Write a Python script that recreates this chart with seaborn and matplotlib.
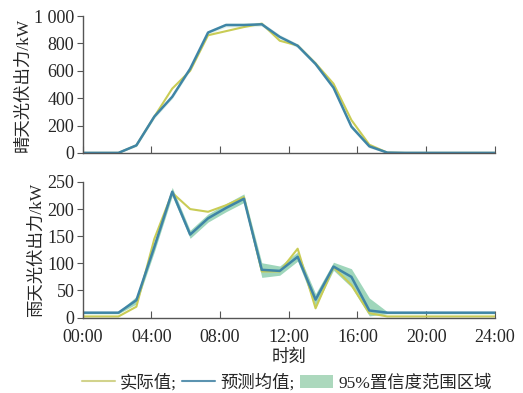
import numpy as np
import pandas as pd
import matplotlib
matplotlib.use("Agg")
import matplotlib.pyplot as plt
import seaborn as sns
from matplotlib.lines import Line2D
from matplotlib.patches import Patch

# 24 samples over the day
hours = np.linspace(0, 24, 24)
tick_pos = [0, 4, 8, 12, 16, 20, 24]
tick_labels = ["00:00", "04:00", "08:00", "12:00", "16:00", "20:00", "24:00"]

# sunny day (kW)
sunny_actual = [0, 0, 0, 55, 265, 470, 600, 860, 890, 920, 945, 820,
                785, 655, 506, 240, 60, 2, 0, 0, 0, 0, 0, 0]
sunny_pred = [0, 0, 0, 55, 265, 410, 615, 880, 935, 935, 940, 848,
              783, 650, 477, 192, 48, 2, 0, 0, 0, 0, 0, 0]
sunny_lo = [0, 0, 0, 45, 250, 395, 600, 865, 920, 920, 925, 830,
            768, 635, 460, 175, 35, 0, 0, 0, 0, 0, 0, 0]
sunny_hi = [0, 0, 0, 65, 280, 425, 630, 895, 950, 950, 955, 865,
            798, 665, 495, 210, 62, 5, 0, 0, 0, 0, 0, 0]

# rainy day (kW)
rain_actual = [2, 2, 2, 20, 145, 230, 200, 195, 207, 222, 85, 85,
               127, 17, 93, 60, 8, 2, 2, 2, 2, 2, 2, 2]
rain_pred = [9, 9, 9, 32, 130, 232, 153, 183, 202, 219, 88, 86,
             112, 33, 94, 75, 13, 9, 9, 9, 9, 9, 9, 9]
rain_lo = [7, 7, 7, 25, 121, 224, 146, 176, 195, 212, 74, 78,
           104, 20, 87, 56, 3, 7, 7, 7, 7, 7, 7, 7]
rain_hi = [11, 11, 11, 39, 139, 240, 161, 191, 210, 228, 101, 95,
           121, 44, 102, 90, 36, 11, 11, 11, 11, 11, 11, 11]

c_actual = "#c9cc55"
c_pred = "#3f85a6"
c_band = "#6cc197"

sns.set_style("white")
plt.rcParams["font.family"] = ["Liberation Serif", "Noto Sans CJK SC"]
plt.rcParams["axes.unicode_minus"] = False

fig = plt.figure(figsize=(5.23, 3.93), dpi=100)
ax1 = fig.add_axes([0.158, 0.611, 0.788, 0.348])
ax2 = fig.add_axes([0.158, 0.192, 0.788, 0.345])

panels = [
    (ax1, sunny_actual, sunny_pred, sunny_lo, sunny_hi, 0.18, "晴天光伏出力/kW", 1000),
    (ax2, rain_actual, rain_pred, rain_lo, rain_hi, 0.65, "雨天光伏出力/kW", 250),
]

for ax, act, pred, lo, hi, a, ylab, ymax in panels:
    df = pd.DataFrame({"t": hours, "actual": act, "pred": pred})
    ax.fill_between(hours, lo, hi, color=c_band, alpha=a, lw=0)
    sns.lineplot(data=df, x="t", y="actual", ax=ax, color=c_actual, lw=1.5)
    sns.lineplot(data=df, x="t", y="pred", ax=ax, color=c_pred, lw=1.8)
    ax.set_xlim(0, 24)
    ax.set_ylim(0, ymax)
    ax.set_xticks(tick_pos)
    ax.set_ylabel(ylab, fontsize=12.5, labelpad=2)
    ax.set_xlabel("")
    for s in ["top", "right"]:
        ax.spines[s].set_visible(False)
    for s in ["left", "bottom"]:
        ax.spines[s].set_color("#555555")
        ax.spines[s].set_linewidth(1.0)
    ax.tick_params(axis="x", direction="in", length=5, color="#555555",
                   labelsize=13, bottom=True, pad=8)
    ax.tick_params(axis="y", direction="out", length=4, color="#555555",
                   labelsize=13, left=True, pad=2)

ax1.set_yticks([0, 200, 400, 600, 800, 1000])
ax1.set_yticklabels(["0", "200", "400", "600", "800", "1 000"])
ax1.set_xticklabels([])
ax2.set_yticks([0, 50, 100, 150, 200, 250])
ax2.set_xticklabels(tick_labels)
ax2.set_xlabel("时刻", fontsize=12.5, labelpad=3)

handles = [
    Line2D([0], [0], color="#d2d38c", lw=1.5),
    Line2D([0], [0], color="#5b93b0", lw=1.5),
    Patch(facecolor="#acd8bd", edgecolor="none"),
]
labels = ["实际值;", "预测均值;", "95%置信度范围区域"]
fig.legend(handles, labels, loc="center", bbox_to_anchor=(0.548, 0.026), ncol=3,
           frameon=False, fontsize=12.5, handlelength=1.9, handletextpad=0.3,
           columnspacing=0.3)

fig.savefig("out.png", dpi=100)
